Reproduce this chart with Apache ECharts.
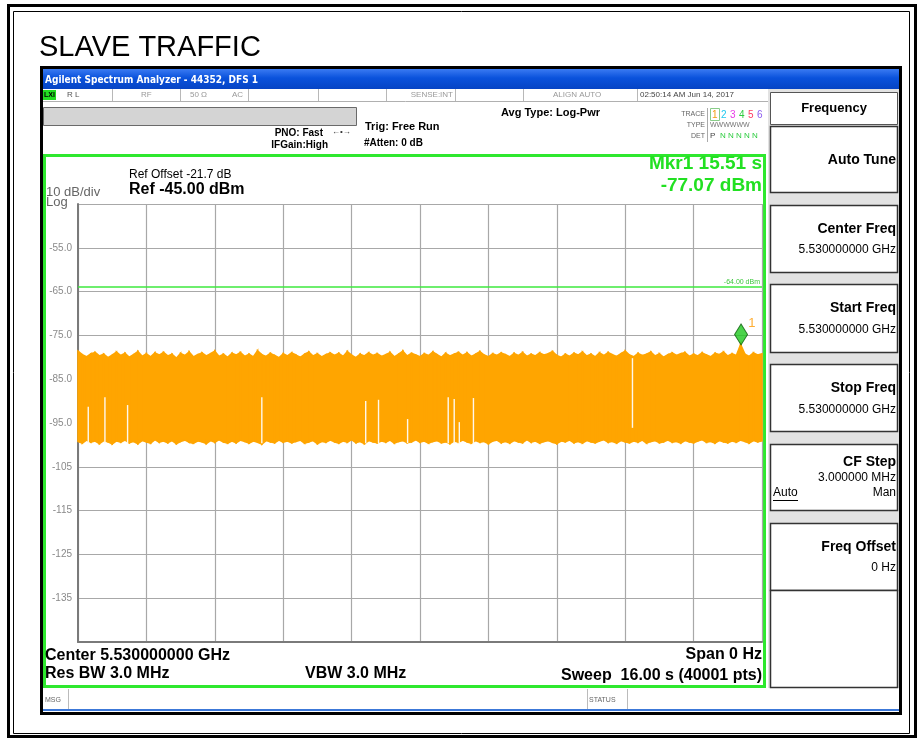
<!DOCTYPE html>
<html>
<head>
<meta charset="utf-8">
<script src="https://cdn.jsdelivr.net/npm/echarts@6/dist/echarts.min.js"></script>
<style>
html,body{margin:0;padding:0;background:#fff;}
#chart{width:923px;height:740px;}
</style>
</head>
<body>
<div id="chart"></div>
<script>
// ---------------- DATA ----------------
const pageTitle = 'SLAVE TRAFFIC';
const sweepSeconds = 16;
const sampleStep = 0.1; // s between envelope samples
// upper envelope of trace 1 (dBm), one value every 0.1 s from 0 to 16 s
const traceUpper = [
  -78.6,-79.4,-79.9,-79.2,-78.9,-79.7,-79.3,-80.1,-79.5,-78.8,
  -79.6,-79.1,-80.0,-79.4,-78.7,-79.8,-79.2,-79.9,-79.0,-79.5,
  -78.9,-79.7,-79.3,-80.2,-79.1,-79.6,-78.8,-79.9,-79.4,-79.0,
  -79.7,-79.2,-78.6,-79.8,-79.3,-80.0,-79.1,-79.5,-78.9,-79.8,
  -79.3,-79.9,-78.5,-79.4,-79.8,-79.1,-79.6,-80.1,-79.2,-79.7,
  -79.0,-79.5,-80.0,-79.3,-78.8,-79.7,-79.2,-79.9,-79.4,-79.0,
  -79.6,-79.1,-79.8,-78.7,-79.5,-80.1,-79.3,-79.7,-79.0,-79.6,
  -79.2,-79.8,-79.4,-78.9,-79.9,-79.3,-78.6,-79.7,-79.1,-79.5,
  -79.9,-79.2,-79.6,-78.8,-79.4,-80.0,-79.1,-79.7,-79.3,-78.9,
  -79.6,-79.0,-79.8,-79.3,-78.7,-79.5,-79.9,-79.2,-79.6,-79.0,
  -79.4,-79.9,-79.1,-79.6,-78.9,-79.8,-79.3,-79.7,-79.0,-79.5,
  -79.2,-78.7,-79.6,-80.0,-79.3,-79.8,-79.1,-79.5,-78.8,-79.7,
  -79.3,-79.9,-79.0,-79.6,-78.9,-79.4,-79.8,-79.2,-78.6,-79.5,
  -79.9,-79.1,-79.6,-79.3,-78.8,-79.7,-79.2,-80.0,-79.4,-79.0,
  -79.6,-79.2,-78.9,-79.8,-79.3,-79.7,-79.0,-79.5,-79.9,-79.1,
  -79.4,-78.8,-79.7,-79.2,-79.6,-77.1,-79.3,-79.8,-79.0,-79.5,
  -79.2
];
// lower envelope of trace 1 (dBm)
const traceLower = [
  -99.2,-99.6,-98.9,-99.4,-99.1,-99.7,-99.0,-99.3,-99.8,-99.1,
  -99.4,-98.9,-99.5,-99.2,-99.7,-99.0,-99.3,-99.6,-98.8,-99.4,
  -99.1,-99.5,-99.0,-99.7,-99.2,-98.9,-99.4,-99.6,-99.1,-99.3,
  -99.7,-99.0,-99.4,-98.8,-99.3,-99.6,-99.1,-99.5,-98.9,-99.2,
  -99.6,-99.1,-99.4,-99.8,-99.0,-99.3,-99.5,-98.9,-99.4,-99.1,
  -99.5,-99.2,-98.9,-99.6,-99.3,-99.0,-99.7,-99.2,-99.4,-98.9,
  -99.3,-99.6,-99.1,-99.4,-98.8,-99.5,-99.2,-99.7,-99.0,-99.3,
  -99.5,-99.1,-99.4,-98.9,-99.6,-99.2,-99.0,-99.5,-99.3,-98.8,
  -99.4,-99.1,-99.6,-99.2,-99.0,-99.5,-99.3,-99.7,-99.1,-99.4,
  -98.9,-99.3,-99.6,-99.0,-99.4,-99.2,-99.7,-99.1,-98.9,-99.5,
  -99.2,-99.6,-99.0,-99.3,-99.5,-98.8,-99.4,-99.1,-99.6,-99.2,
  -99.0,-99.4,-99.7,-99.1,-99.3,-98.9,-99.5,-99.2,-99.6,-99.0,
  -99.3,-99.5,-99.1,-98.8,-99.4,-99.2,-99.6,-99.0,-99.3,-99.5,
  -99.1,-99.4,-98.9,-99.6,-99.2,-99.0,-99.5,-99.3,-98.9,-99.4,
  -99.2,-99.6,-99.0,-99.3,-99.5,-99.1,-98.8,-99.4,-99.2,-99.6,
  -99.0,-99.3,-99.5,-99.1,-99.4,-98.9,-99.2,-99.6,-99.0,-99.3,
  -99.1
];
// narrow columns where the trace leaves a white gap (time s, top dBm, bottom dBm)
const gapTimes  = [0.24, 0.63, 1.16, 4.30, 6.73, 7.03, 7.71, 8.66, 8.80, 8.92, 9.25, 12.97];
const gapTop    = [-91.3,-89.1,-90.9,-89.1,-90.0,-89.7,-94.1,-89.1,-89.5,-94.8,-89.3,-80.2];
const gapBottom = [-99.6,-99.6,-99.6,-99.6,-99.6,-99.6,-99.6,-99.6,-99.6,-99.6,-99.6,-96.1];
const displayLine = -64.00;      // dBm
const markerTime = 15.51;        // s
const markerLevel = -77.07;      // dBm
const yMin = -145, yMax = -45, yStep = 10;

// ---------------- CHART ----------------
const sampleTimes = traceUpper.map((_, i) => +(i * sampleStep).toFixed(2));
// band segments between consecutive samples: [t0, t1, up0, up1, lo0, lo1]
const bandSegments = [];
for (let i = 0; i < sampleTimes.length - 1; i++) {
  bandSegments.push([sampleTimes[i], sampleTimes[i + 1], traceUpper[i], traceUpper[i + 1], traceLower[i], traceLower[i + 1]]);
}
const FONT = '"Liberation Sans", Arial, sans-serif';

function R(x, y, w, h, fill, stroke, lw) {
  return { type: 'rect', silent: true, shape: { x: x, y: y, width: w, height: h },
    style: { fill: fill || 'none', stroke: stroke || null, lineWidth: lw || 1 } };
}
function L(x1, y1, x2, y2, stroke, lw) {
  return { type: 'line', silent: true, shape: { x1: x1, y1: y1, x2: x2, y2: y2 },
    style: { stroke: stroke, lineWidth: lw || 1 } };
}
function T(x, y, text, size, opt) {
  opt = opt || {};
  const weight = opt.bold ? 'bold ' : '';
  const al = opt.align || 'left';
  return { type: 'text', silent: true, x: x, y: y,
    style: { text: text, font: weight + size + 'px ' + (opt.family || FONT), fill: opt.color || '#000',
      align: al, textAlign: al, verticalAlign: 'middle', textVerticalAlign: 'middle' } };
}

const g = [];
// page double frame
g.push(R(8.5, 5.5, 907, 731, 'none', '#000', 3));
g.push(R(13.5, 11.5, 896, 722, 'none', '#000', 1));
g.push(T(39, 48, pageTitle, 29));
// analyzer window
g.push(R(41.5, 67.5, 859, 646, '#fff', '#000', 3));
g.push({ type: 'rect', silent: true, shape: { x: 43, y: 69, width: 856, height: 20 },
  style: { fill: { type: 'linear', x: 0, y: 0, x2: 0, y2: 1,
    colorStops: [{ offset: 0, color: '#3a7af2' }, { offset: 0.45, color: '#0a52dc' }, { offset: 1, color: '#0644c4' }] } } });
g.push(T(45, 80, 'Agilent Spectrum Analyzer - 44352, DFS 1', 10, { bold: true, color: '#fff', family: '"DejaVu Sans Condensed", "Liberation Sans", sans-serif' }));
// status row
g.push(R(43, 89, 725, 12, '#fff'));
g.push(L(43, 101.5, 768, 101.5, '#b0b0b0', 1));
[112, 180, 248, 318, 386, 455, 523, 637].forEach(function (x) { g.push(L(x + 0.5, 89, x + 0.5, 101, '#b8b8b8', 1)); });
g.push(R(43, 90, 13, 10, '#22dd22'));
g.push(T(44, 95, 'LXI', 7, { bold: true }));
g.push(T(67, 95, 'R L', 8, { color: '#555' }));
g.push(T(141, 95, 'RF', 8, { color: '#999' }));
g.push(T(190, 95, '50 Ω', 8, { color: '#999' }));
g.push(T(232, 95, 'AC', 8, { color: '#999' }));
g.push(T(453, 95, 'SENSE:INT', 8, { color: '#999', align: 'right' }));
g.push(T(553, 95, 'ALIGN AUTO', 8, { color: '#999' }));
g.push(T(640, 95, '02:50:14 AM Jun 14, 2017', 8, { color: '#444' }));
// gray bar
g.push(R(43.5, 107.5, 313, 18, '#d4d4d4', '#6a6a6a', 1));
g.push(T(323, 133, 'PNO: Fast', 10, { bold: true, align: 'right' }));
g.push(T(332, 132, '←•→', 8, { color: '#333' }));
g.push(T(328, 145, 'IFGain:High', 10, { bold: true, align: 'right' }));
g.push(T(365, 127, 'Trig: Free Run', 11, { bold: true }));
g.push(T(364, 143, '#Atten: 0 dB', 10, { bold: true }));
g.push(T(501, 113, 'Avg Type: Log-Pwr', 11, { bold: true }));
g.push(T(705, 114, 'TRACE', 7, { color: '#666', align: 'right' }));
g.push(T(705, 125, 'TYPE', 7, { color: '#666', align: 'right' }));
g.push(T(705, 136, 'DET', 7, { color: '#666', align: 'right' }));
g.push(L(707.5, 108, 707.5, 142, '#aaa', 1));
g.push(R(710.5, 108.5, 9, 12, 'none', '#88cc88', 1));
const traceDigitColors = ['#f39c12', '#20c8f0', '#e83ce8', '#2ecc40', '#ff3860', '#8c5cf0'];
traceDigitColors.forEach(function (c, i) { g.push(T(712 + i * 9, 115, String(i + 1), 10, { color: c })); });
g.push(T(710, 125, 'WWWWWW', 7, { color: '#777' }));
g.push(T(710, 136, 'P', 8, { color: '#444' }));
g.push(T(720, 136, 'N N N N N', 8, { color: '#2ecc40' }));
// softkey panel
g.push(R(768, 89, 131, 599, '#e2e2e2'));
g.push(R(770.5, 92.5, 127, 32, '#fff', '#555', 1));
g.push(T(834, 108, 'Frequency', 13, { bold: true, align: 'center' }));
const keyBoxes = [[126, 192], [205, 272], [284, 352], [364, 431], [444, 510], [523, 590], [590, 687]];
keyBoxes.forEach(function (b) { g.push(R(770.5, b[0] + 0.5, 127, b[1] - b[0], '#fff', '#333', 1.5)); });
g.push(T(896, 160, 'Auto Tune', 14, { bold: true, align: 'right' }));
g.push(T(896, 229, 'Center Freq', 14, { bold: true, align: 'right' }));
g.push(T(896, 250, '5.530000000 GHz', 12, { align: 'right' }));
g.push(T(896, 308, 'Start Freq', 14, { bold: true, align: 'right' }));
g.push(T(896, 330, '5.530000000 GHz', 12, { align: 'right' }));
g.push(T(896, 388, 'Stop Freq', 14, { bold: true, align: 'right' }));
g.push(T(896, 410, '5.530000000 GHz', 12, { align: 'right' }));
g.push(T(896, 462, 'CF Step', 14, { bold: true, align: 'right' }));
g.push(T(896, 478, '3.000000 MHz', 12, { align: 'right' }));
g.push(T(773, 493, 'Auto', 12));
g.push(L(773, 500.5, 798, 500.5, '#000', 1));
g.push(T(896, 493, 'Man', 12, { align: 'right' }));
g.push(T(896, 547, 'Freq Offset', 14, { bold: true, align: 'right' }));
g.push(T(896, 568, '0 Hz', 12, { align: 'right' }));
// green display frame
g.push(R(44.5, 155.5, 720, 531, 'none', '#2ee82e', 3));
g.push(T(46, 192, '10 dB/div', 13, { color: '#666' }));
g.push(T(46, 202, 'Log', 13, { color: '#666' }));
g.push(T(129, 175, 'Ref Offset -21.7 dB', 12));
g.push(T(129, 190, 'Ref -45.00 dBm', 16, { bold: true }));
g.push(T(762, 164, 'Mkr1 ' + markerTime.toFixed(2) + ' s', 19, { bold: true, color: '#22e022', align: 'right' }));
g.push(T(762, 186, markerLevel.toFixed(2) + ' dBm', 19, { bold: true, color: '#22e022', align: 'right' }));
g.push(T(45, 656, 'Center 5.530000000 GHz', 16, { bold: true }));
g.push(T(45, 674, 'Res BW 3.0 MHz', 16, { bold: true }));
g.push(T(305, 674, 'VBW 3.0 MHz', 16, { bold: true }));
g.push(T(762, 655, 'Span 0 Hz', 16, { bold: true, align: 'right' }));
g.push(T(762, 676, 'Sweep  16.00 s (40001 pts)', 16, { bold: true, align: 'right' }));
// bottom status bar
g.push(L(68.5, 689, 68.5, 709, '#bbb', 1));
g.push(L(587.5, 689, 587.5, 709, '#bbb', 1));
g.push(L(627.5, 689, 627.5, 709, '#bbb', 1));
g.push(T(45, 700, 'MSG', 7, { color: '#666' }));
g.push(T(589, 700, 'STATUS', 7, { color: '#666' }));
g.push(R(43, 709, 856, 2, '#3c78d8'));

const TRACE_COLOR = '#ffa500';
const chart = echarts.init(document.getElementById('chart'), null, { renderer: 'canvas' });
chart.setOption({
  animation: false,
  backgroundColor: '#fff',
  graphic: { elements: g },
  grid: { left: 78, top: 204, width: 684, height: 438, show: true, borderColor: '#7a7a7a', borderWidth: 2, backgroundColor: 'transparent' },
  xAxis: {
    type: 'value', min: 0, max: sweepSeconds, interval: sweepSeconds / 10,
    axisLabel: { show: false }, axisTick: { show: false },
    axisLine: { show: true, lineStyle: { color: '#7a7a7a', width: 2 } },
    splitLine: { show: true, lineStyle: { color: '#a8a8a8', width: 1.2 } }
  },
  yAxis: {
    type: 'value', min: yMin, max: yMax, interval: yStep,
    axisTick: { show: false },
    axisLine: { show: true, lineStyle: { color: '#7a7a7a', width: 2 } },
    splitLine: { show: true, lineStyle: { color: '#a8a8a8', width: 1.2 } },
    axisLabel: {
      margin: 6, color: '#8a8a8a', fontSize: 10, fontFamily: FONT,
      formatter: function (v) {
        const r = Math.round(v);
        if (r >= yMax - 5 || r <= yMin + 5) return '';
        return r > -100 ? r.toFixed(1) : String(r);
      }
    }
  },
  series: [
    {
      name: 'Trace 1', type: 'custom', silent: true,
      encode: { x: [0, 1], y: [2, 3, 4, 5] },
      data: bandSegments,
      renderItem: function (params, api) {
        const a = api.coord([api.value(0), api.value(2)]);
        const b = api.coord([api.value(1), api.value(3)]);
        const c = api.coord([api.value(1), api.value(5)]);
        const d = api.coord([api.value(0), api.value(4)]);
        return { type: 'polygon', shape: { points: [a, b, c, d] },
          style: { fill: TRACE_COLOR, stroke: TRACE_COLOR, lineWidth: 1.6, lineJoin: 'miter' } };
      },
      markLine: {
        silent: true, symbol: 'none',
        lineStyle: { color: '#3ee83e', width: 1.5, type: 'solid' },
        label: { show: true, position: 'insideEndTop', formatter: displayLine.toFixed(2) + ' dBm', color: '#3cc83c', fontSize: 7, fontFamily: FONT, distance: 2 },
        data: [{ yAxis: displayLine }]
      }
    },
    {
      name: 'gaps', type: 'custom', silent: true,
      encode: { x: 0, y: [1, 2] },
      data: gapTimes.map(function (t, i) { return [t, gapTop[i], gapBottom[i]]; }),
      renderItem: function (params, api) {
        const p1 = api.coord([api.value(0), api.value(1)]);
        const p2 = api.coord([api.value(0), api.value(2)]);
        return { type: 'line', shape: { x1: p1[0], y1: p1[1], x2: p2[0], y2: p2[1] }, style: { stroke: '#fff8ec', lineWidth: 1.4 } };
      },
      z: 3
    },
    {
      name: 'Marker 1', type: 'scatter', silent: true,
      symbol: 'diamond', symbolSize: [13, 21], symbolOffset: [0, -10],
      itemStyle: { color: '#1ec81e', borderColor: '#0b5e0b', borderWidth: 1 },
      label: { show: true, formatter: '1', position: [14, -6], color: '#ff9a00', fontSize: 13, fontFamily: FONT },
      data: [[markerTime, markerLevel]], z: 5
    }
  ]
});
</script>
</body>
</html>
